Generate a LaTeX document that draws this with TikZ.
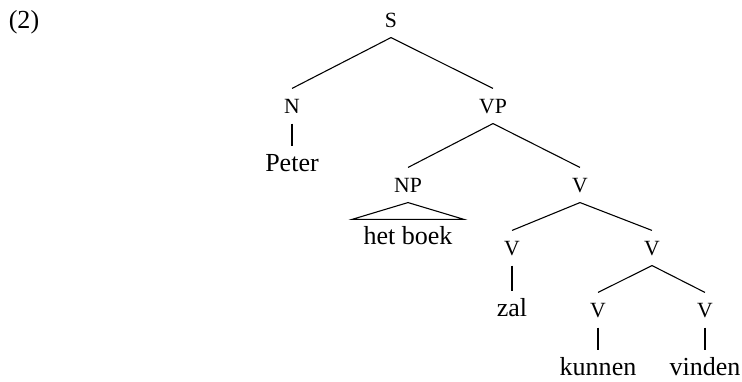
\documentclass[tikz,border=0pt]{standalone}
\usepackage{fontspec}
\setmainfont{Liberation Serif}
\tikzset{cat/.style = {font = \fontsize{10}{12}\selectfont, inner xsep = 0, inner ysep = 4.4pt, text height = 7pt, text depth = 0pt}}
\tikzset{word/.style = {font = \fontsize{12}{14}\selectfont, inner xsep = 0, inner ysep = 3.5pt, text height = 8pt, text depth = 0pt}}
\tikzset{branch/.style = {line width = 0.5pt}}

\begin{document}
\begin{tikzpicture}[x = 0.1621cm, y = -0.1621cm]

       \useasboundingbox (0, 0) rectangle (74.2, 38.1);
       \node [word] (ex) at (2.4, 2.0) {(2)};

       \node [cat] (S) at (39.1, 2.0) {S};
       \node [cat] (N) at (29.2, 10.6) {N};
       \node [cat] (VP) at (49.3, 10.6) {VP};
       \node [word] (peter) at (29.2, 16.3) {Peter};
       \node [cat] (NP) at (40.8, 18.5) {NP};
       \node [cat] (Va) at (58.0, 18.5) {V};
       \node [word] (boek) at (40.8, 23.6) {het boek};
       \node [cat] (Vb) at (51.2, 24.8) {V};
       \node [cat] (Vc) at (65.2, 24.8) {V};
       \node [word] (zal) at (51.2, 30.8) {zal};
       \node [cat] (Vd) at (59.8, 31.0) {V};
       \node [cat] (Ve) at (70.5, 31.0) {V};
       \node [word] (kunnen) at (59.8, 36.7) {kunnen};
       \node [word] (vinden) at (70.5, 36.7) {vinden};

       \draw [branch] (S.south) -- (N.north);
       \draw [branch] (S.south) -- (VP.north);
       \draw [branch] (N.south) -- (peter.north);
       \draw [branch] (VP.south) -- (NP.north);
       \draw [branch] (VP.south) -- (Va.north);
       \draw [branch] (Va.south) -- (Vb.north);
       \draw [branch] (Va.south) -- (Vc.north);
       \draw [branch] (Vb.south) -- (zal.north);
       \draw [branch] (Vc.south) -- (Vd.north);
       \draw [branch] (Vc.south) -- (Ve.north);
       \draw [branch] (Vd.south) -- (kunnen.north);
       \draw [branch] (Ve.south) -- (vinden.north);

       \draw [branch] (NP.south) -- ([xshift = -5pt] boek.north west)
             -- ([xshift = 5pt] boek.north east) -- cycle;
    \end{tikzpicture}
\end{document}
